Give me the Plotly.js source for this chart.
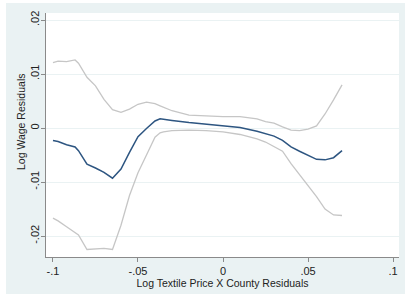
<!DOCTYPE html>
<html>
<head>
<meta charset="utf-8">
<script src="https://cdn.plot.ly/plotly-3.0.1.min.js"></script>
<style>html,body{margin:0;padding:0;background:#fff;}#chart{width:405px;height:297px;}</style>
</head>
<body>
<div id="chart"></div>
<script>
var xVals = [-0.1, -0.097, -0.092, -0.087, -0.085, -0.08, -0.075, -0.07, -0.065, -0.06, -0.055, -0.05, -0.045, -0.04, -0.037, -0.035, -0.03, -0.02, -0.01, 0, 0.01, 0.02, 0.025, 0.03, 0.035, 0.04, 0.045, 0.05, 0.055, 0.06, 0.065, 0.07];
var fitVals = [-0.0023, -0.0025, -0.0031, -0.0035, -0.0042, -0.0067, -0.0074, -0.0082, -0.0093, -0.0076, -0.0045, -0.0016, -0.0001, 0.0013, 0.0017, 0.0016, 0.0014, 0.0010, 0.0007, 0.0005, 0.0001, -0.0006, -0.0010, -0.0015, -0.0023, -0.0035, -0.0043, -0.0050, -0.0058, -0.0059, -0.0055, -0.0042];
var upperVals = [0.0121, 0.0124, 0.0123, 0.0126, 0.0120, 0.0094, 0.0078, 0.0053, 0.0034, 0.0029, 0.0035, 0.0044, 0.0048, 0.0045, 0.0041, 0.0038, 0.0032, 0.0024, 0.0022, 0.0021, 0.0021, 0.0017, 0.0012, 0.0009, 0.0002, -0.0004, -0.0005, -0.0002, 0.0004, 0.0026, 0.0052, 0.0080];
var lowerVals = [-0.0167, -0.0172, -0.0183, -0.0194, -0.0198, -0.0225, -0.0224, -0.0223, -0.0225, -0.0180, -0.0125, -0.0083, -0.0050, -0.0017, -0.0009, -0.0007, -0.0005, -0.0004, -0.0005, -0.0007, -0.0012, -0.0020, -0.0026, -0.0034, -0.0043, -0.0066, -0.0086, -0.0105, -0.0127, -0.0150, -0.0161, -0.0162];
var xTickVals = [-0.1, -0.05, 0, 0.05, 0.1];
var xTickText = ['-.1', '-.05', '0', '.05', '.1'];
var yTickVals = [-0.02, -0.01, 0, 0.01, 0.02];
var yTickText = ['-.02', '-.01', '0', '.01', '.02'];
var xTitle = 'Log Textile Price X County Residuals';
var yTitle = 'Log Wage Residuals';

var grey = '#c6c6c6';
var fontFam = 'Liberation Sans, Arial, sans-serif';
var traces = [
  {x: xVals, y: upperVals, mode: 'lines', line: {color: grey, width: 1.3}, hoverinfo: 'skip'},
  {x: xVals, y: lowerVals, mode: 'lines', line: {color: grey, width: 1.3}, hoverinfo: 'skip'},
  {x: xVals, y: fitVals, mode: 'lines', line: {color: '#2d5581', width: 1.5}, hoverinfo: 'skip'}
];
var axisCommon = {
  showline: true, linecolor: '#8a8a8a', linewidth: 1,
  ticks: 'outside', ticklen: 4, tickcolor: '#8a8a8a', tickwidth: 1,
  zeroline: false,
  tickfont: {family: fontFam, size: 11, color: '#222'}
};
var layout = {
  width: 405, height: 297,
  margin: {l: 46, r: 6, t: 13, b: 40},
  paper_bgcolor: '#ffffff',
  plot_bgcolor: '#ffffff',
  showlegend: false,
  font: {family: fontFam, color: '#222'},
  shapes: [
    {type: 'rect', xref: 'paper', yref: 'paper', x0: -0.1133, x1: 1.02, y0: -0.152, y1: 1.041, fillcolor: '#eaf2f3', line: {width: 0}, layer: 'below'},
    {type: 'rect', xref: 'paper', yref: 'paper', x0: 0, x1: 1, y0: 0, y1: 1, fillcolor: '#ffffff', line: {width: 0}, layer: 'below'}
  ],
  xaxis: Object.assign({}, axisCommon, {
    range: [-0.1041, 0.1035],
    tickvals: xTickVals, ticktext: xTickText,
    showgrid: false,
    title: {text: xTitle, font: {size: 10.5, color: '#222'}, standoff: 0}
  }),
  yaxis: Object.assign({}, axisCommon, {
    range: [-0.02389, 0.0213],
    tickvals: yTickVals, ticktext: yTickText,
    tickangle: -90,
    ticklabelstandoff: -2,
    showgrid: true, gridcolor: '#eaf2f3', gridwidth: 1,
    title: {text: ''}
  }),
  annotations: [
    {text: yTitle, xref: 'paper', yref: 'paper', x: -0.071, y: 0.557, xanchor: 'center', yanchor: 'middle',
     textangle: -90, showarrow: false, font: {family: fontFam, size: 10.5, color: '#222'}}
  ]
};
Plotly.newPlot('chart', traces, layout, {displayModeBar: false, staticPlot: true});
</script>
</body>
</html>
